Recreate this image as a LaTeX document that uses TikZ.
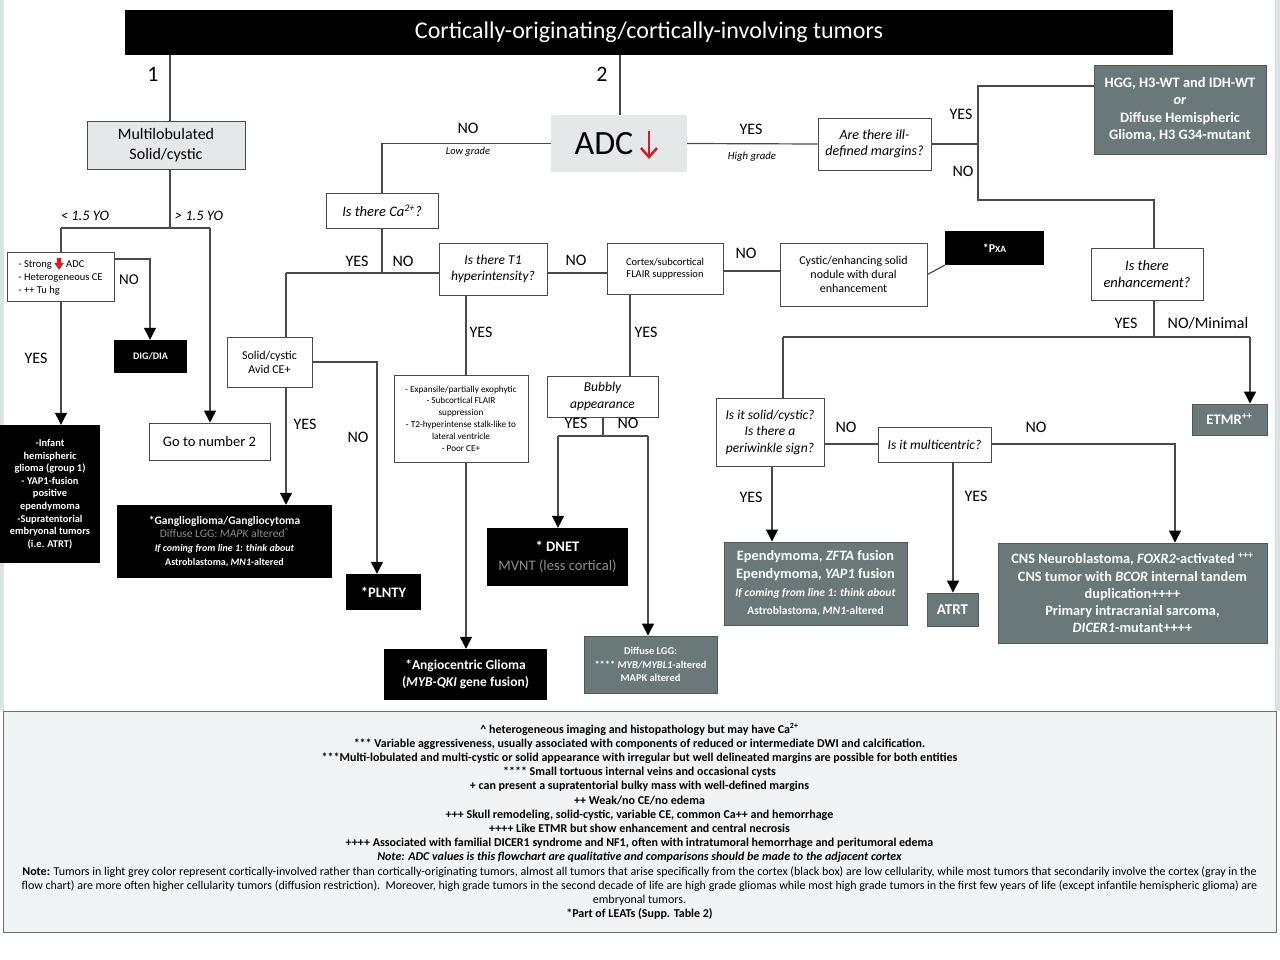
\documentclass[tikz,border=0pt]{standalone}
\usepackage{fontspec}
\setmainfont{Carlito}
\usetikzlibrary{arrows.meta}
\definecolor{linec}{HTML}{4A4A4A}
\definecolor{darkg}{HTML}{6B7879}
\definecolor{lightg}{HTML}{E4E8E9}
\definecolor{notef}{HTML}{F1F4F4}
\definecolor{stripc}{HTML}{DDE2E2}
\definecolor{gtxt}{HTML}{8E8E8E}
\definecolor{adcred}{HTML}{D0202A}
\newcommand\fs[2]{\fontsize{#1}{#2}\selectfont}
\begin{document}
\begin{tikzpicture}[x=1pt,y=-1pt,
  wbox/.style={draw=linec, line width=0.9pt, fill=white, inner sep=1pt, align=center},
  lbox/.style={draw=linec, line width=0.9pt, fill=lightg, inner sep=1pt, align=center},
  blk/.style={fill=black, text=white, inner sep=1pt, align=center},
  gbox/.style={fill=darkg, draw=darkg!75!black, line width=0.9pt, text=white, inner sep=1pt, align=center},
  conn/.style={draw=linec, line width=1.2pt},
  arr/.style={conn, -{Triangle[width=12pt,length=12pt,black]}},
  lbl/.style={inner sep=0pt, font=\fs{16}{18}},
  qst/.style={wbox, font=\itshape\fs{13.5}{16.5}}]
\useasboundingbox (0,0) rectangle (1280,960);
\fill[white] (0,0) rectangle (1280,960);
\fill[stripc] (0,0) rectangle (4,711);
\fill[stripc] (1275,0) rectangle (1280,711);

% ---------- nodes ----------
\node[blk, minimum width=1048, minimum height=45, font=\fs{24}{28}] (title) at (649,32.5) {Cortically-originating/cortically-involving tumors};
\node[inner sep=0pt, font=\fs{22}{24}] (n1) at (153,74) {1};
\node[inner sep=0pt, font=\fs{22}{24}] (n2) at (602,74) {2};

\node[lbox, minimum width=158, minimum height=48, font=\fs{16}{20}] (multi) at (166,145) {Multilobulated\\Solid/cystic};
\node[wbox, minimum width=107, minimum height=49, align=left, font=\fs{10.5}{13}] (strong) at (60.5,276.5) {- Strong \tikz[x=1pt,y=1pt,baseline=0pt]\fill[adcred] (-2.2,9.5)--(2.2,9.5)--(2.2,4.5)--(4.8,4.5)--(0,-2.5)--(-4.8,4.5)--(-2.2,4.5)--cycle; ADC\\- Heterogeneous CE\\- ++ Tu hg};
\node[blk, minimum width=100, minimum height=138, font=\bfseries\fs{10.4}{12.6}] (infant) at (50,494) {-Infant\\hemispheric\\glioma (group 1)\\- YAP1-fusion\\positive\\ependymoma\\-Supratentorial\\embryonal tumors\\(i.e. ATRT)};
\node[blk, minimum width=73, minimum height=33, font=\bfseries\fs{10}{11}] (digdia) at (150.5,356.5) {DIG/DIA};
\node[wbox, minimum width=121, minimum height=37, font=\fs{14.5}{16}] (goto) at (209.5,441.5) {Go to number 2};

\node[fill=lightg, minimum width=136, minimum height=57, inner sep=0pt, font=\fs{34}{36}] (adc) at (619,143.5) {ADC\rule{30pt}{0pt}};
\node[qst, minimum width=112, minimum height=35, font=\itshape\fs{14.5}{16}] (ca) at (382,210.5) {Is there Ca\textsuperscript{2+}?};
\node[qst, minimum width=108, minimum height=52] (t1) at (493,269) {Is there T1\\hyperintensity?};
\node[wbox, minimum width=85, minimum height=50, font=\fs{12}{14}] (solid) at (269.5,362) {Solid/cystic\\Avid CE+};
\node[blk, minimum width=215, minimum height=73, font=\bfseries\fs{11.5}{13.9}] (gang) at (224.5,541.5) {*Ganglioglioma/Gangliocytoma\\\textcolor{gtxt}{\mdseries Diffuse LGG: \textit{MAPK} altered\textsuperscript{\textasciicircum}}\\\fs{10}{13.9}\textit{If coming from line 1: think about}\\\fs{10}{13.9}Astroblastoma, \textit{MN1}-altered};
\node[blk, minimum width=75, minimum height=36, font=\bfseries\fs{14.5}{16}] (plnty) at (383.5,592) {*PLNTY};
\node[wbox, minimum width=134, minimum height=87, font=\fs{9.2}{11.8}] (expans) at (461,418.5) {- Expansile/partially exophytic\\- Subcortical FLAIR\\suppression\\- T2-hyperintense stalk-like to\\lateral ventricle\\- Poor CE+};
\node[blk, minimum width=163, minimum height=51, font=\bfseries\fs{13.5}{17}] (angio) at (465.5,674.5) {*Angiocentric Glioma\\(\textit{MYB-QKI} gene fusion)};
\node[wbox, minimum width=116, minimum height=51, font=\fs{10.5}{12.5}] (cortex) at (665,268.5) {Cortex/subcortical\\FLAIR suppression};
\node[qst, minimum width=111, minimum height=41] (bubbly) at (602.5,396.5) {Bubbly\\appearance};
\node[blk, minimum width=141, minimum height=58, font=\fs{14.6}{19}] (dnet) at (557.5,557) {\textbf{* DNET}\\\textcolor{gtxt}{MVNT (less cortical)}};
\node[gbox, minimum width=133, minimum height=57, font=\bfseries\fs{10.4}{13.5}] (dlgg) at (650.5,664.5) {Diffuse LGG:\\**** \textit{MYB/MYBL1}-altered\\MAPK altered};
\node[wbox, minimum width=147, minimum height=63, font=\fs{12}{14}] (cystic) at (853.5,274.5) {Cystic/enhancing solid\\nodule with dural\\enhancement};
\node[blk, minimum width=99, minimum height=34, font=\bfseries] (pxa) at (994.5,248) {\fs{12}{12}*P\fs{9.5}{12}XA};
\node[qst, minimum width=113, minimum height=52, font=\itshape\fs{14}{16.5}] (ill) at (874.5,144) {Are there ill-\\defined margins?};
\node[gbox, minimum width=172, minimum height=89, font=\bfseries\fs{14.4}{17.3}] (hgg) at (1180,109.5) {HGG, H3-WT and IDH-WT\\\textit{or}\\Diffuse Hemispheric\\Glioma, H3 G34-mutant};
\node[qst, minimum width=112, minimum height=52, font=\itshape\fs{14.5}{17}] (enh) at (1147,274) {Is there\\enhancement?};
\node[qst, minimum width=108, minimum height=68] (peri) at (770,432) {Is it solid/cystic?\\Is there a\\periwinkle sign?};
\node[qst, minimum width=113, minimum height=35] (multic) at (934.5,444.5) {Is it multicentric?};
\node[gbox, minimum width=75, minimum height=31, font=\bfseries\fs{14.6}{15}] (etmr) at (1229.5,419.5) {ETMR\textsuperscript{++}};
\node[gbox, minimum width=183, minimum height=83, font=\bfseries\fs{14.3}{18}] (epend) at (815.5,583.5) {Ependymoma, \textit{ZFTA} fusion\\Ependymoma, \textit{YAP1} fusion\\\fs{11.5}{14.5}\textit{If coming from line 1: think about}\\\fs{11.5}{14.5}Astroblastoma, \textit{MN1}-altered};
\node[gbox, minimum width=51, minimum height=33, font=\bfseries\fs{15}{15}] (atrt) at (952.5,609.5) {ATRT};
\node[gbox, minimum width=269, minimum height=100, font=\bfseries\fs{14.3}{17.3}] (cns) at (1132.5,593) {CNS Neuroblastoma, \textit{FOXR2}-activated \textsuperscript{+++}\\CNS tumor with \textit{BCOR} internal tandem\\duplication++++\\Primary intracranial sarcoma,\\\textit{DICER1}-mutant++++};

% red arrow in ADC box
\draw[adcred, line width=2.6pt] (649,131) -- (649,157);
\draw[adcred, line width=2.6pt] (641,148) -- (649,157) -- (657,148);

% ---------- notes ----------
\node[draw=linec!80, fill=notef, line width=1pt, minimum width=1273, minimum height=221, align=center, inner sep=0pt, font=\bfseries\fs{12}{14.2}] (notes) at (639.5,821.5) {\textasciicircum{} heterogeneous imaging and histopathology but may have Ca\textsuperscript{2+}\\
*** Variable aggressiveness, usually associated with components of reduced or intermediate DWI and calcification.\\
***Multi-lobulated and multi-cystic or solid appearance with irregular but well delineated margins are possible for both entities\\
**** Small tortuous internal veins and occasional cysts\\
+ can present a supratentorial bulky mass with well-defined margins\\
++ Weak/no CE/no edema\\
+++ Skull remodeling, solid-cystic, variable CE, common Ca++ and hemorrhage\\
++++ Like ETMR but show enhancement and central necrosis\\
++++ Associated with familial DICER1 syndrome and NF1, often with intratumoral hemorrhage and peritumoral edema\\
\textit{Note: ADC values is this flowchart are qualitative and comparisons should be made to the adjacent cortex}\\
\mdseries\fs{12}{14.2}\textbf{Note:} Tumors in light grey color represent cortically-involved rather than cortically-originating tumors, almost all tumors that arise specifically from the cortex (black box) are low cellularity, while most tumors that secondarily involve the cortex (gray in the\\
\mdseries\fs{12}{14.2}flow chart) are more often higher cellularity tumors (diffusion restriction).\ \ Moreover, high grade tumors in the second decade of life are high grade gliomas while most high grade tumors in the first few years of life (except infantile hemispheric glioma) are\\
\mdseries\fs{12}{14.2}embryonal tumors.\\
*Part of LEATs (Supp. Table 2)};

% ---------- junction coordinates ----------
\coordinate (j1) at (170,228);
\coordinate (j1l) at (61,228);
\coordinate (j1r) at (210,228);
\coordinate (j2) at (150,259);
\coordinate (j4) at (382,273);
\coordinate (j4l) at (286,273);
\coordinate (j5) at (377,362);
\coordinate (j6) at (466,0);
\coordinate (j7) at (630,0);
\coordinate (j8) at (603,436);
\coordinate (j8l) at (558,436);
\coordinate (j8r) at (648,436);
\coordinate (j9) at (0,271);
\coordinate (j10) at (978,143);
\coordinate (j10t) at (978,86);
\coordinate (j10b) at (978,200);
\coordinate (j11) at (1154,200);
\coordinate (j12) at (1154,337);
\coordinate (j12l) at (783,337);
\coordinate (j12r) at (1250,337);
\coordinate (j13) at (772,0);
\coordinate (j14) at (0,444);
\coordinate (j15) at (953,0);
\coordinate (j16) at (1175,444);
\coordinate (j20) at (620,0);

% ---------- connectors ----------
\draw[conn] (title.south -| j1) -- (multi.north -| j1);
\draw[conn] (multi.south -| j1) -- (j1);
\draw[conn] (j1l) -- (j1r);
\draw[conn] (j1l) -- (strong.north -| j1l);
\draw[arr] (j1r) -- (goto.north -| j1r);
\draw[arr] (strong.south -| j1l) -- (infant.north -| j1l);
\draw[arr] (strong.east |- j2) -| (digdia.north -| j2);

\draw[conn] (title.south -| j20) -- (adc.north -| j20);
\draw[conn] (adc.west) -| (ca.north);
\draw[conn] (adc.east) -- (ill.west);

\draw[conn] (ca.south) -- (j4);
\draw[conn] (j4l) -- (t1.west |- j4);
\draw[conn] (j4l) -- (solid.north -| j4l);
\draw[arr] (solid.east |- j5) -| (plnty.north -| j5);
\draw[arr] (solid.south -| j4l) -- (gang.north -| j4l);
\draw[conn] (t1.south -| j6) -- (expans.north -| j6);
\draw[arr] (expans.south -| j6) -- (angio.north -| j6);
\draw[conn] (t1.east |- j4) -- (cortex.west |- j4);
\draw[conn] (cortex.south -| j7) -- (bubbly.north -| j7);
\draw[conn] (bubbly.south -| j8) -- (j8);
\draw[conn] (j8l) -- (j8r);
\draw[arr] (j8l) -- (dnet.north -| j8l);
\draw[arr] (j8r) -- (dlgg.north -| j8r);
\draw[conn] (cortex.east |- j9) -- (cystic.west |- j9);
\draw[conn] (cystic.east) -- (pxa.south west);

\draw[conn] (ill.east) -- (ill.east -| j10);
\draw[conn] (hgg.west |- j10t) -- (j10t) -- (j10b) -- (j11) -- (enh.north -| j11);
\draw[conn] (enh.south -| j12) -- (j12);
\draw[conn] (j12l) -- (j12r);
\draw[conn] (j12l) -- (peri.north -| j12l);
\draw[arr] (j12r) -- (etmr.north -| j12r);
\draw[arr] (peri.south -| j13) -- (epend.north -| j13);
\draw[conn] (peri.east |- j14) -- (multic.west |- j14);
\draw[arr] (multic.south -| j15) -- (atrt.north -| j15);
\draw[arr] (multic.east |- j16) -| (cns.north -| j16);

% ---------- labels ----------
\node[lbl, font=\itshape\fs{14.5}{16}] (l1) at (85,216) {< 1.5 YO};
\node[lbl, font=\itshape\fs{14.5}{16}] (l2) at (199,216) {> 1.5 YO};
\node[lbl, font=\fs{15}{16}] (l3) at (129,280) {NO};
\node[lbl] (l4) at (36,358) {YES};
\node[lbl] (l5) at (468,128) {NO};
\node[lbl, font=\itshape\fs{10.4}{12}] (l6) at (468,152) {Low grade};
\node[lbl] (l7) at (751,129) {YES};
\node[lbl, font=\itshape\fs{10.8}{12}] (l8) at (752,157) {High grade};
\node[lbl] (l9) at (357,261) {YES};
\node[lbl] (l10) at (403,261) {NO};
\node[lbl] (l11) at (305,424) {YES};
\node[lbl] (l12) at (358,437) {NO};
\node[lbl] (l13) at (481,332) {YES};
\node[lbl] (l14) at (576,260) {NO};
\node[lbl] (l15) at (646,332) {YES};
\node[lbl] (l16) at (576,423) {YES};
\node[lbl] (l17) at (628,423) {NO};
\node[lbl] (l18) at (746,253) {NO};
\node[lbl] (l19) at (961,114) {YES};
\node[lbl] (l20) at (963,171) {NO};
\node[lbl] (l21) at (1126,323) {YES};
\node[lbl] (l22) at (1208,323) {NO/Minimal};
\node[lbl] (l23) at (846,427) {NO};
\node[lbl] (l24) at (751,497) {YES};
\node[lbl] (l25) at (976,496) {YES};
\node[lbl] (l26) at (1036,427) {NO};
\end{tikzpicture}
\end{document}
